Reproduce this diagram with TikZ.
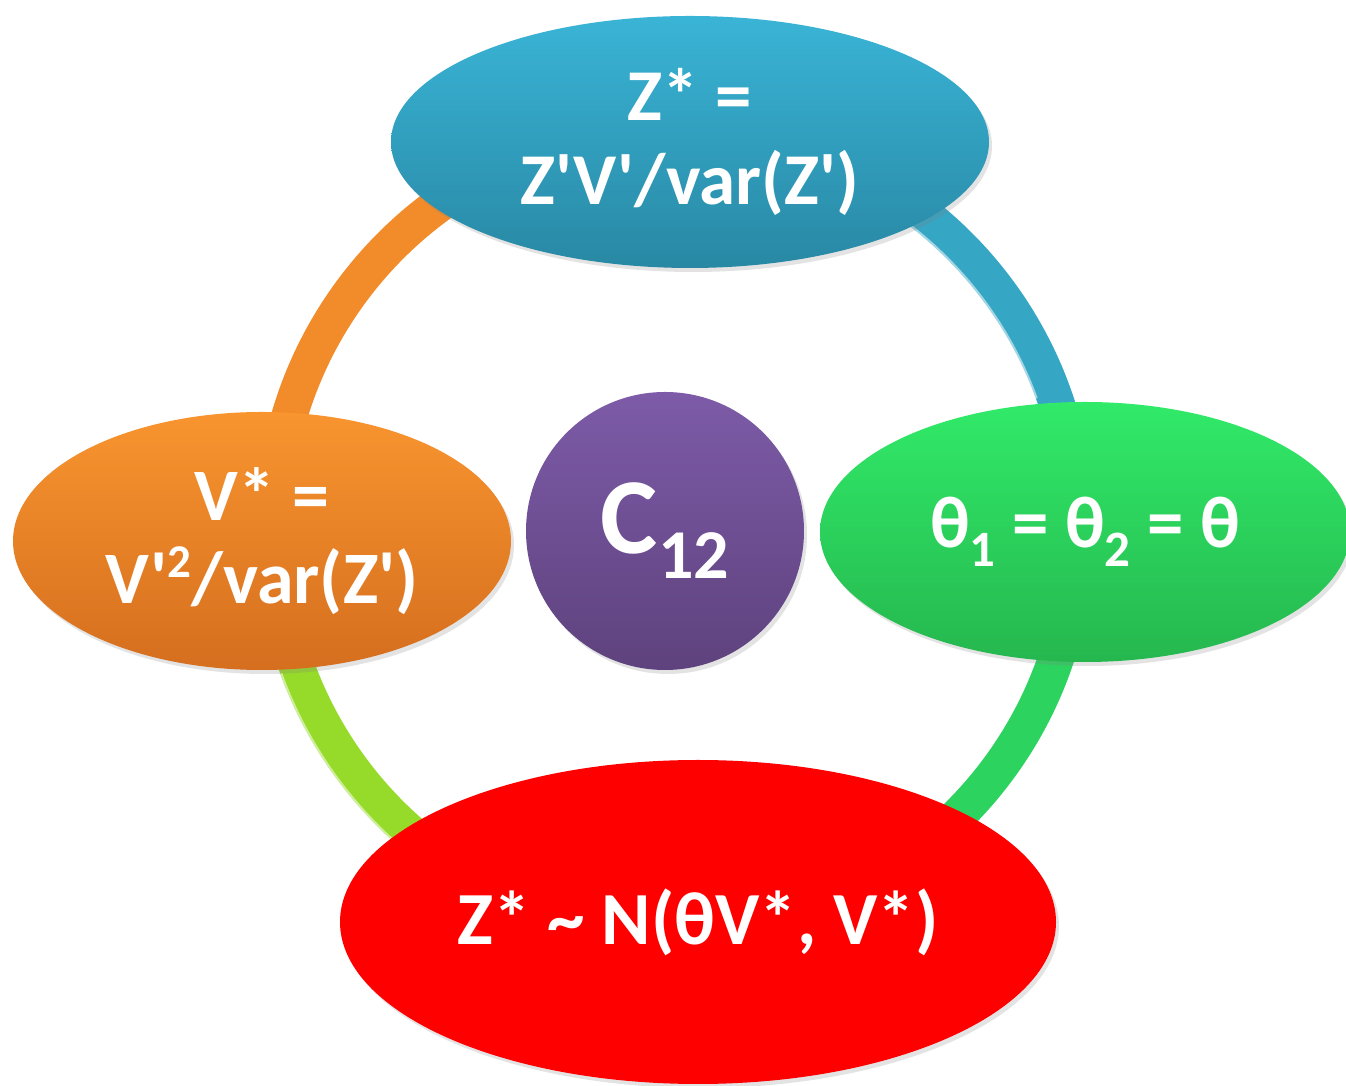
\documentclass[tikz,border=0pt]{standalone}
\usepackage{fontspec}
\setmainfont{Carlito}[Ligatures=TeXOff]
\usetikzlibrary{shapes.geometric,shadows}
\definecolor{ringorange}{HTML}{F28B2A}
\definecolor{ringblue}{HTML}{35A6C4}
\definecolor{ringgreen}{HTML}{2CD35F}
\definecolor{ringlime}{HTML}{96DA2A}
\definecolor{blueTop}{HTML}{3AB4D6}
\definecolor{blueBot}{HTML}{2888A4}
\definecolor{orangeTop}{HTML}{F8952F}
\definecolor{orangeBot}{HTML}{D56E1E}
\definecolor{greenTop}{HTML}{31EA69}
\definecolor{greenBot}{HTML}{25B74E}
\definecolor{redFill}{HTML}{FF0000}
\definecolor{purpleTop}{HTML}{7D5BA8}
\definecolor{purpleBot}{HTML}{5E427D}
\newcommand\lowidx[1]{\raisebox{-19pt}{\fontsize{51}{51}\selectfont #1}}
\newcommand\highidx[1]{\raisebox{26pt}{\fontsize{47}{47}\selectfont #1}}
\begin{document}
\begin{tikzpicture}[x=1pt,y=1pt,
  ringseg/.style={line width=36pt},
  bubble/.style={ellipse, inner sep=0pt, text=white, align=center,
    font=\bfseries\fontsize{73}{84}\selectfont,
    drop shadow={opacity=0.22, shadow xshift=3pt, shadow yshift=-4pt}},
  hilite/.style={white, opacity=0.55, line width=2pt}
]
\useasboundingbox (0,0) rectangle (1346,1086);
\coordinate (rc) at (675,556);
% ring segments
\draw[ringseg, ringorange] (rc) ++(90:402) arc[start angle=90, end angle=180, radius=402];
\draw[ringseg, ringlime] (rc) ++(180:402) arc[start angle=180, end angle=270, radius=402];
\draw[ringseg, ringgreen] (rc) ++(270:402) arc[start angle=270, end angle=360, radius=402];
\draw[ringseg, ringblue] (rc) ++(0:402) arc[start angle=0, end angle=90, radius=402];
% highlights
\draw[hilite] (rc) ++(20:385) arc[start angle=20, end angle=70, radius=385];
\draw[hilite] (rc) ++(200:419) arc[start angle=200, end angle=245, radius=419];
% nodes
\node[bubble, minimum width=598pt, minimum height=252pt, top color=blueTop, bottom color=blueBot]
  (zs) at (690,944) {Z* =\\Z'V'/var(Z')};
\node[bubble, minimum width=498pt, minimum height=258pt, top color=orangeTop, bottom color=orangeBot,
  font=\bfseries\fontsize{74}{83}\selectfont]
  (vs) at (262,545) {V* =\\V'\highidx{2}/var(Z')};
\node[bubble, minimum width=530pt, minimum height=260pt, top color=greenTop, bottom color=greenBot]
  (th) at (1085,554) {θ\lowidx{1} = θ\lowidx{2} = θ};
\node[bubble, minimum width=716pt, minimum height=324pt, fill=redFill,
  font=\bfseries\fontsize{75}{84}\selectfont]
  (dist) at (698,164) {Z* \textasciitilde{} N(θV*, V*)};
\node[bubble, circle, minimum size=278pt, top color=purpleTop, bottom color=purpleBot,
  font=\bfseries\fontsize{108}{108}\selectfont]
  (c) at (665,555) {C\raisebox{-25pt}{\fontsize{70}{70}\selectfont 12}};
\end{tikzpicture}
\end{document}
